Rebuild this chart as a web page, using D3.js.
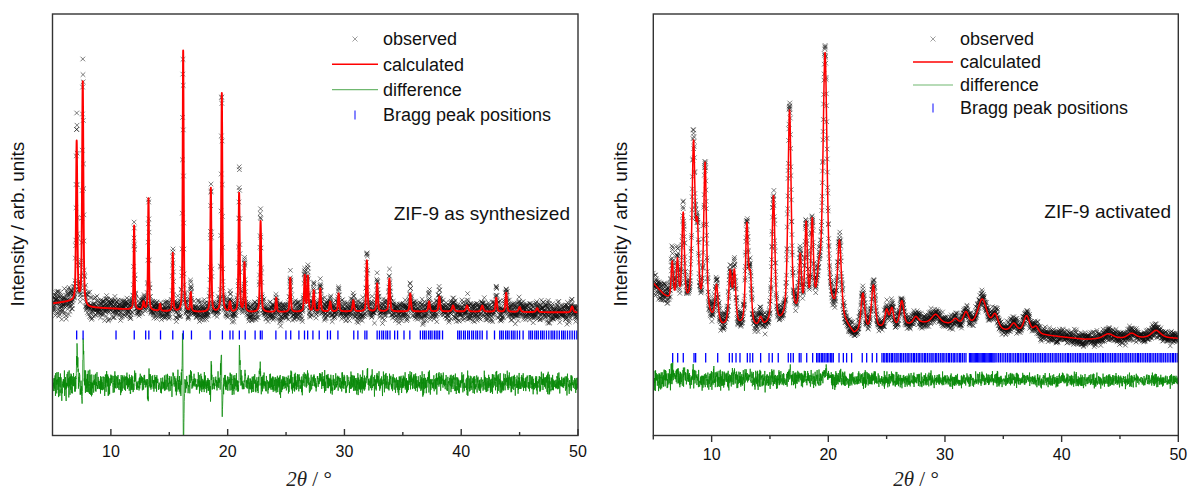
<!DOCTYPE html>
<html><head><meta charset="utf-8">
<script src="https://cdn.jsdelivr.net/npm/d3@7"></script>
<style>body{margin:0;background:#fff}svg{display:block}</style>
</head><body><svg id="c" width="1190" height="493"></svg>
<script>
// ---------- shared ----------
const xTicks = [10, 20, 30, 40, 50];
const xMinor = [15, 25, 35, 45];
const legendLabels = ["observed", "calculated", "difference", "Bragg peak positions"];
const xTitle = ["2", "θ", " / °"];
const yTitle = "Intensity / arb. units";

// ---------- left: ZIF-9 as synthesized ----------
const labelL = "ZIF-9 as synthesized";
const bgL = [[5,132],[6.5,134],[7.3,133],[8,128],[10,127],[15,124],[20,123],[30,124],[40,124],[50,123]];
// [position, calculated height, observed height, fwhm, observed shift]
const peaksL = [
 [7.07,160,188,0.13,0.008],[7.59,222,238,0.13,0.012],[11.99,84,90,0.10,0.010],[12.8,8,10,0.15,0],
 [13.22,112,104,0.10,0.008],[14.21,7,8,0.12,0],[15.3,58,62,0.10,0.008],[16.19,261,250,0.10,-0.018],
 [16.84,19,30,0.12,0],[18.56,124,128,0.11,0.008],[19.5,219,220,0.11,-0.012],[20.2,10,14,0.15,0],
 [20.98,119,140,0.12,0.012],[21.44,49,55,0.12,0.008],[22.82,91,100,0.13,-0.010],[24.16,14,18,0.12,0],
 [25.36,34,38,0.12,0],[26.6,36,45,0.13,0],[26.87,35,40,0.13,0],[27.37,21,25,0.13,0],
 [27.93,23,28,0.13,0],[28.78,10,12,0.15,0],[29.5,18,25,0.13,0],[30.76,11,12,0.15,0],
 [31.92,51,60,0.13,0.008],[32.8,28,32,0.14,0],[33.85,33,36,0.14,0],[35.64,18,24,0.14,0],
 [37.25,10,14,0.15,0],[38.13,15,20,0.15,0],[39.3,6,7,0.2,0],[40.5,6,7,0.2,0],
 [41.8,6,7,0.2,0],[43.0,14,22,0.15,0.010],[43.85,19,22,0.15,0],[45.0,5,5,0.2,0],
 [46.5,4,4,0.2,0],[49.5,6,6,0.2,0]
];
const noiseL = [[5,8],[8,6],[12,5],[50,5]];
const braggL = [7.07,7.62,10.44,12.0,12.98,13.25,14.25,15.3,16.2,16.9,18.5,19.55,20.2,20.45,21.0,21.5,22.35,22.8,22.95,
 24.13,24.99,25.4,26.1,26.58,26.85,27.3,27.84,28.55,28.8,29.44,30.8,31.15,31.75,31.92,32.8,33.0,33.2,33.35,33.55,33.7,
 33.9,34.3,34.55,35.1,35.6,36.5,36.7,36.85,37.0,37.2,37.35,37.5,37.7,37.85,38.0,38.15,38.4,39.7,39.85,40.0,40.2,40.35,
 40.55,40.7,40.9,41.05,41.25,41.4,41.6,41.8,42.2,42.85,43.3,43.45,43.6,43.8,43.95,44.1,44.3,44.45,44.6,44.8,45.0,45.3,
 45.8,45.95,46.1,46.3,46.45,46.6,46.8,46.95,47.1,47.3,47.5,47.7,47.85,48.0,48.2,48.4,48.6,48.75,48.9,49.1,49.3,49.5,
 49.7,49.9];

// ---------- right: ZIF-9 activated ----------
const labelR = "ZIF-9 activated";
const bgR = [[5,152],[5.9,140],[6.5,134],[7.9,130],[9.0,126],[9.9,116],[10.9,108],[12.5,108],[13.8,107],[15.8,110],
 [17.3,118],[18.9,124],[20.4,122],[21.5,110],[22.2,100],[24.4,106],[26,108],[28,112],[30.5,111],[32,110],[35,104],
 [37,102],[39.5,99],[42,96],[46,97],[48,98],[50,97]];
const peaksR = [
 [6.62,38,44,0.22,0],[7.07,40,48,0.22,0],[7.56,88,93,0.25,0],[8.45,160,163,0.30,0],[8.78,70,70,0.25,0],
 [9.44,148,150,0.28,0],[10.42,36,38,0.30,0],[11.59,52,54,0.30,0],[11.95,52,56,0.28,0],[13.02,100,108,0.28,0],
 [13.32,45,45,0.25,0],[14.2,8,10,0.30,0],[15.3,128,132,0.30,0],[16.68,208,216,0.33,0],[17.59,55,58,0.25,0],
 [18.1,85,88,0.25,0],[18.62,85,87,0.25,0],[19.2,30,31,0.35,0],[19.72,256,265,0.42,0],[20.96,75,78,0.38,0],
 [22.96,38,40,0.38,0],[23.86,44,47,0.38,0],[25.0,17,18,0.35,0],[25.45,18,19,0.35,0],[26.3,25,26,0.40,0],
 [27.5,7,8,0.5,0],[29.2,9,10,0.8,0],[30.9,5,5,0.5,0],[31.8,12,13,0.5,0],[33.2,28,29,0.9,0],
 [34.3,14,15,0.6,0],[35.9,8,9,0.6,0],[37.0,17,18,0.6,0],[37.8,7,7,0.5,0],[44.0,5,5,1.0,0],
 [46.0,5,5,0.8,0],[48.1,7,7,0.9,0]
];
const noiseR = [[5,5.5],[10,5],[20,4.2],[30,3.4],[50,3.2]];
const braggR = [6.66,7.09,7.57,8.49,8.63,9.49,10.52,11.52,11.77,12.09,12.43,13.06,13.29,13.52,14.2,14.92,15.2,15.71,
 16.57,16.78,17.0,17.51,17.66,18.15,18.66,19.0,19.12,19.25,19.4,19.52,19.65,19.8,19.92,20.05,20.2,20.3,20.43,20.92,21.29,
 21.57,22.0,22.91,23.29,23.77,24.15,24.6,24.75,24.85,25.0,25.1,25.25,25.4,25.5,25.65,25.8,25.9,26.05,26.2,26.3,26.45,
 26.6,26.75,26.85,27.0,27.15,27.3,27.4,27.55,27.7,27.8,27.95,28.1,28.25,28.35,28.5,28.65,28.8,28.9,29.05,29.2,29.3,
 29.45,29.6,29.75,29.85,30.0,30.15,30.3,30.4,30.55,30.7,30.8,30.95,31.1,31.25,31.35,31.5,31.65,31.8,32.1,32.2,32.3,
 32.4,32.5,32.6,32.7,32.8,32.9,33.0,33.1,33.2,33.3,33.4,33.5,33.6,33.7,33.8,33.9,34.0,34.1,34.2,34.3,34.45,34.6,34.75,
 34.9,35.05,35.2,35.35,35.5,35.6,35.75,35.9,36.05,36.2,36.3,36.45,36.6,36.75,36.9,37.0,37.15,37.3,37.45,37.6,37.75,
 37.9,38.05,38.2,38.35,38.5,38.6,38.75,38.9,39.05,39.2,39.35,39.5,39.6,39.75,39.9,40.05,40.2,40.35,40.5,40.6,40.75,
 40.9,41.05,41.2,41.35,41.5,41.6,41.75,41.9,42.05,42.2,42.35,42.5,42.6,42.75,42.9,43.05,43.2,43.35,43.5,43.6,43.75,
 43.9,44.05,44.2,44.35,44.5,44.6,44.75,44.9,45.05,45.2,45.35,45.5,45.6,45.75,45.9,46.05,46.2,46.35,46.5,46.6,46.75,
 46.9,47.05,47.2,47.35,47.5,47.6,47.75,47.9,48.05,48.2,48.35,48.5,48.6,48.75,48.9,49.05,49.2,49.35,49.5,49.6,49.75,49.9];

// ---------- drawing ----------
const svg = d3.select("#c");
const FONT = "'Liberation Sans', Arial, sans-serif";

function pv(x, p, h, w) {
  const u = 2 * (x - p) / w, u2 = u * u;
  return h * (0.5 / (1 + u2) + 0.5 * Math.exp(-Math.LN2 * u2));
}
function hash(i, s) {
  let t = (Math.imul(i + 1, 374761393) + Math.imul(s + 7, 668265263)) | 0;
  t = Math.imul(t ^ (t >>> 13), 1274126177);
  t ^= t >>> 16;
  return (t >>> 0) / 4294967296;
}
function gauss(i, s) { return (hash(i, s) + hash(i, s + 101) + hash(i, s + 202) - 1.5) * 2; }

function drawChart(cfg) {
  const x = d3.scaleLinear().domain([5, 50]).range([cfg.x0, cfg.x1]);
  const y = d3.scaleLinear().domain([0, 421.5]).range([435.5, 14]);
  const bg = d3.scaleLinear().domain(cfg.bg.map(d => d[0])).range(cfg.bg.map(d => d[1])).clamp(true);
  const noise = d3.scaleLinear().domain(cfg.noise.map(d => d[0])).range(cfg.noise.map(d => d[1]));
  const calc = t => bg(t) + d3.sum(cfg.peaks, p => pv(t, p[0], p[1], p[3]));
  const obsModel = t => bg(t) + d3.sum(cfg.peaks, p => pv(t, p[0] + p[4], p[2], p[3]));

  const g = svg.append("g");
  const clipId = "clip" + cfg.id;
  svg.append("clipPath").attr("id", clipId).append("rect")
    .attr("x", cfg.x0).attr("y", 14).attr("width", cfg.x1 - cfg.x0).attr("height", 421.5);
  const pg = g.append("g").attr("clip-path", `url(#${clipId})`);

  const xsObs = d3.range(5, 50.0001, 0.015);
  const obs = xsObs.map((t, i) => {
    const c = calc(t);
    return { t, c, o: obsModel(t) + noise(t) * gauss(i, cfg.id * 13) };
  });

  // observed crosses
  const s = 2.3;
  let dStr = "";
  obs.forEach(d => {
    const px = x(d.t), py = y(d.o);
    dStr += `M${(px - s).toFixed(1)},${(py - s).toFixed(1)}L${(px + s).toFixed(1)},${(py + s).toFixed(1)}M${(px - s).toFixed(1)},${(py + s).toFixed(1)}L${(px + s).toFixed(1)},${(py - s).toFixed(1)}`;
  });
  pg.append("path").attr("d", dStr).attr("fill", "none").attr("stroke", "#111")
    .attr("stroke-width", 0.65).attr("stroke-opacity", 0.85);

  // calculated
  const xsCalc = d3.range(5, 50.0001, 0.005);
  pg.append("path").datum(xsCalc)
    .attr("d", d3.line().x(t => x(t)).y(t => y(calc(t))))
    .attr("fill", "none").attr("stroke", "#ff0000").attr("stroke-width", cfg.redW).attr("stroke-linejoin", "round");

  // difference
  pg.append("path").datum(obs)
    .attr("d", d3.line().x(d => x(d.t)).y(d => y(d.o - d.c + cfg.diffOff)))
    .attr("fill", "none").attr("stroke", "#0a8a0a").attr("stroke-width", 0.8);

  // Bragg ticks
  pg.append("g").selectAll("line").data(cfg.bragg).join("line")
    .attr("x1", d => x(d)).attr("x2", d => x(d))
    .attr("y1", y(cfg.braggY[0])).attr("y2", y(cfg.braggY[1]))
    .attr("stroke", "#0000ff").attr("stroke-width", 1.3);

  // frame
  g.append("rect").attr("x", cfg.x0).attr("y", 14).attr("width", cfg.x1 - cfg.x0).attr("height", 421.5)
    .attr("fill", "none").attr("stroke", "#333").attr("stroke-width", 1.4);

  // x axis ticks
  const dir = cfg.inward ? -1 : 1;
  const axisG = g.append("g");
  axisG.selectAll("line.maj").data(xTicks).join("line")
    .attr("x1", d => x(d)).attr("x2", d => x(d)).attr("y1", 435.5).attr("y2", 435.5 + dir * 6.5)
    .attr("stroke", "#333").attr("stroke-width", 1.4);
  axisG.selectAll("line.min").data(xMinor).join("line")
    .attr("x1", d => x(d)).attr("x2", d => x(d)).attr("y1", 435.5).attr("y2", 435.5 + dir * 3.5)
    .attr("stroke", "#333").attr("stroke-width", 1.4);
  if (!cfg.inward) {
    axisG.append("line").attr("x1", cfg.x0).attr("x2", cfg.x0).attr("y1", 435.5).attr("y2", 439.5)
      .attr("stroke", "#333").attr("stroke-width", 1.4);
  }
  axisG.selectAll("text").data(xTicks).join("text")
    .attr("x", d => x(d)).attr("y", cfg.tickLabelY).attr("text-anchor", "middle")
    .attr("font-family", FONT).attr("font-size", 16).attr("fill", "#111").text(d => d);

  // axis titles
  const xt = g.append("text").attr("x", cfg.xTitleX).attr("y", 486).attr("text-anchor", "middle")
    .attr("font-family", "'Liberation Serif', 'Times New Roman', serif").attr("font-style", "italic")
    .attr("font-size", 21).attr("fill", "#222");
  xt.append("tspan").text(xTitle[0]);
  xt.append("tspan").text(xTitle[1]);
  xt.append("tspan").attr("font-style", "normal").text(xTitle[2]);

  g.append("text").attr("transform", `translate(${cfg.yTitleX},224) rotate(-90)`)
    .attr("text-anchor", "middle").attr("font-family", FONT).attr("font-size", 19).attr("fill", "#111")
    .text(yTitle);

  // legend
  const lg = g.append("g");
  legendLabels.forEach((lab, i) => {
    const ly = cfg.leg.y0 + i * cfg.leg.dy;
    lg.append("text").attr("x", cfg.leg.tx).attr("y", ly).attr("dy", "0.35em")
      .attr("font-family", FONT).attr("font-size", 18).attr("fill", "#111").text(lab);
    const mx = (cfg.leg.l0 + cfg.leg.l1) / 2;
    if (i === 0) {
      lg.append("path").attr("d", `M${mx - 2.5},${ly - 2.5}L${mx + 2.5},${ly + 2.5}M${mx - 2.5},${ly + 2.5}L${mx + 2.5},${ly - 2.5}`)
        .attr("stroke", "#777").attr("stroke-width", 0.7);
    } else if (i === 1) {
      lg.append("line").attr("x1", cfg.leg.l0).attr("x2", cfg.leg.l1).attr("y1", ly).attr("y2", ly)
        .attr("stroke", "#ff0000").attr("stroke-width", 1.6);
    } else if (i === 2) {
      lg.append("line").attr("x1", cfg.leg.l0).attr("x2", cfg.leg.l1).attr("y1", ly).attr("y2", ly)
        .attr("stroke", "#70b870").attr("stroke-width", 1.2);
    } else {
      lg.append("line").attr("x1", mx).attr("x2", mx).attr("y1", ly - 4.5).attr("y2", ly + 4.5)
        .attr("stroke", "#2020ff").attr("stroke-width", 1.1);
    }
  });

  // sample label
  g.append("text").attr("x", cfg.label.x).attr("y", cfg.label.y).attr("dy", "0.35em").attr("text-anchor", "end")
    .attr("font-family", FONT).attr("font-size", 19).attr("fill", "#111").text(cfg.label.text);
}

drawChart({
  id: 1, x0: 52.5, x1: 578, bg: bgL, peaks: peaksL, noise: noiseL, bragg: braggL,
  diffOff: 52, braggY: [96, 105], redW: 1.9, inward: true, tickLabelY: 457,
  xTitleX: 309, yTitleX: 24,
  leg: { y0: 39, dy: 25.3, tx: 383, l0: 332, l1: 378 },
  label: { x: 570, y: 213, text: labelL }
});
drawChart({
  id: 2, x0: 653.3, x1: 1178.3, bg: bgR, peaks: peaksR, noise: noiseR, bragg: braggR,
  diffOff: 55, braggY: [73, 82.5], redW: 1.5, inward: false, tickLabelY: 460,
  xTitleX: 916, yTitleX: 627,
  leg: { y0: 39, dy: 23, tx: 960, l0: 913, l1: 953 },
  label: { x: 1171, y: 211, text: labelR }
});
</script>
</body></html>
